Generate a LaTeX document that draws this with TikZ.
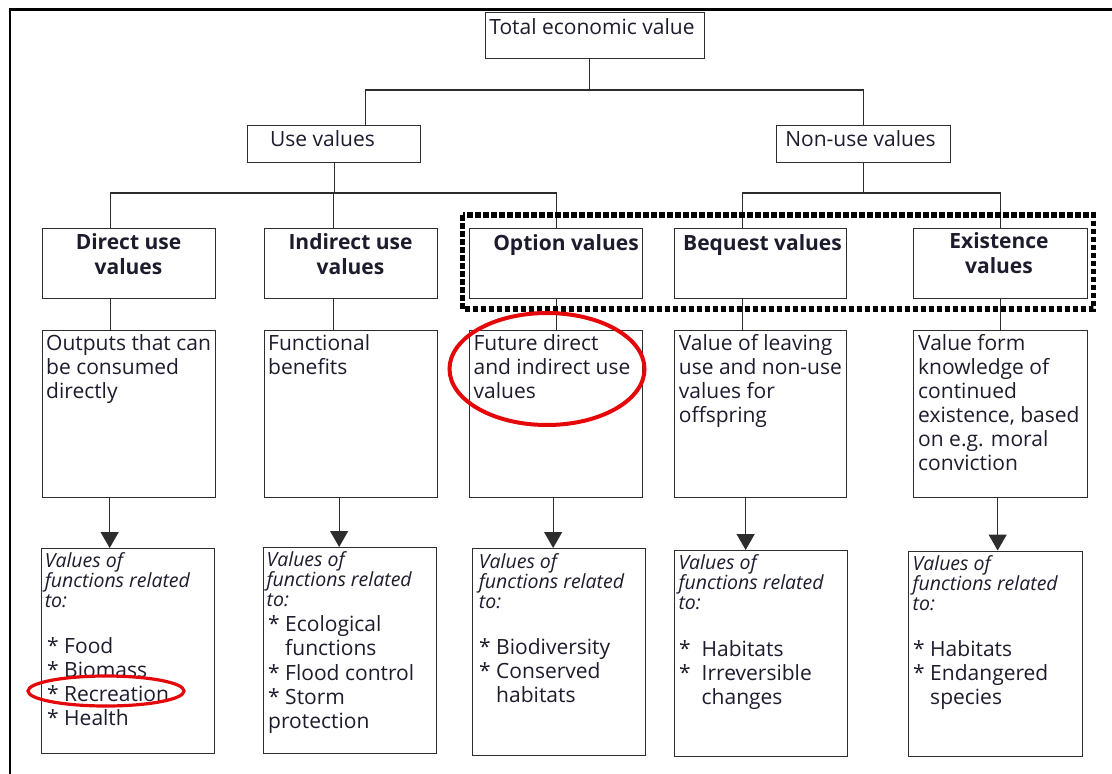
\documentclass[tikz,border=0pt]{standalone}
\usepackage{fontspec}
\setmainfont{Open Sans}
\usetikzlibrary{arrows.meta}
\definecolor{ink}{RGB}{28,28,45}
\definecolor{boxc}{RGB}{45,45,45}
\definecolor{redc}{RGB}{228,8,10}
\newcommand{\pl}[1]{\parbox[t]{300pt}{\raggedright #1}}
\newcommand{\pc}[1]{\parbox[t]{240pt}{\centering #1}}
\newcommand{\fr}{\fontsize{21}{24}\selectfont}
\newcommand{\fb}{\fontsize{21}{25}\selectfont\bfseries}
\newcommand{\fit}{\fontsize{19.5}{20}\selectfont\itshape}
\newcommand{\fbul}{\fontsize{21}{24.2}\selectfont}
\tikzset{
  box/.style={draw=boxc, line width=1.3pt, inner sep=0pt, anchor=north west},
  lbl/.style={inner sep=0pt, text=ink, anchor=base west},
  clbl/.style={inner sep=0pt, text=ink, anchor=base},
  conn/.style={draw=boxc, line width=1.3pt},
  arr/.style={conn, -{Triangle[width=18pt,length=16pt]}},
  hl/.style={draw=redc},
  dotbox/.style={draw=black, line width=5.5pt, dash pattern=on 5.5pt off 2.5pt},
}
\begin{document}
\begin{tikzpicture}[x=1pt,y=-1pt]
\useasboundingbox (0,0) rectangle (1112,774);
% outer frame
\draw[line width=2.5pt] (10,774) -- (10,9.5) -- (1112,9.5);

% header boxes
\node[box, minimum width=219pt, minimum height=46pt] (tev) at (485,11.5) {};
\node[box, minimum width=173pt, minimum height=37pt] (use) at (247,125) {};
\node[box, minimum width=174pt, minimum height=37pt] (non) at (776,125) {};

% value boxes
\node[box, minimum width=173pt, minimum height=69.5pt] (dir) at (42,228) {};
\node[box, minimum width=173pt, minimum height=69.5pt] (ind) at (264,228) {};
\node[box, minimum width=173pt, minimum height=69.5pt] (opt) at (469,228) {};
\node[box, minimum width=172pt, minimum height=69.5pt] (beq) at (674,228) {};
\node[box, minimum width=174pt, minimum height=69.5pt] (exi) at (913,228) {};

% description boxes
\node[box, minimum width=173pt, minimum height=167pt] (dirO) at (42,330) {};
\node[box, minimum width=173pt, minimum height=167pt] (indO) at (264,330) {};
\node[box, minimum width=173pt, minimum height=167pt] (optO) at (469,330) {};
\node[box, minimum width=172pt, minimum height=167pt] (beqO) at (674,330) {};
\node[box, minimum width=174pt, minimum height=167pt] (exiO) at (913,330) {};

% function boxes
\node[box, minimum width=173pt, minimum height=205pt] (dirF) at (40.5,548) {};
\node[box, minimum width=173pt, minimum height=206pt] (indF) at (263,547) {};
\node[box, minimum width=173pt, minimum height=207pt] (optF) at (471.5,548) {};
\node[box, minimum width=173pt, minimum height=206pt] (beqF) at (674,550) {};
\node[box, minimum width=174pt, minimum height=205pt] (exiF) at (908,550.5) {};

% tree connectors
\coordinate (bar1) at (0,90);
\coordinate (bar2) at (0,193);
\draw[conn] ([xshift=-5.5pt]tev.south) -- ([xshift=-5.5pt]tev.south |- bar1);
\draw[conn] ([xshift=31.5pt]use.north) |- (bar1 -| non.north) -- (non.north);
\draw[conn] (use.south) -- (use.south |- bar2);
\draw[conn] ([xshift=-18.5pt]dir.north) |- (bar2 -| opt.north) -- (opt.north);
\draw[conn] ([xshift=-17.5pt]ind.north) -- ([xshift=-17.5pt]ind.north |- bar2);
\draw[conn] (non.south) -- (non.south |- bar2);
\draw[conn] ([xshift=-18pt]beq.north) |- (bar2 -| exi.north) -- (exi.north);

% value -> description
\draw[conn] ([xshift=-18.5pt]dir.south) -- ([xshift=-18.5pt]dirO.north);
\draw[conn] ([xshift=-17.5pt]ind.south) -- ([xshift=-17.5pt]indO.north);
\draw[conn] (opt.south) -- (optO.north);
\draw[conn] ([xshift=-18pt]beq.south) -- ([xshift=-18pt]beqO.north);
\draw[conn] (exi.south) -- (exiO.north);

% description -> functions
\draw[arr] ([xshift=-19.5pt]dirO.south) -- ([xshift=-19.5pt]dirO.south |- dirF.north);
\draw[arr] ([xshift=-12pt]indO.south) -- ([xshift=-12pt]indO.south |- indF.north);
\draw[arr] ([xshift=-3pt]optO.south) -- ([xshift=-3pt]optO.south |- optF.north);
\draw[arr] ([xshift=-15pt]beqO.south) -- ([xshift=-15pt]beqO.south |- beqF.north);
\draw[arr] ([xshift=-3pt]exiO.south) -- ([xshift=-3pt]exiO.south |- exiF.north);

% dotted frame around non-use group
\draw[dotbox] (462.5,215) rectangle (1093.5,309);

% header texts
\node[clbl, font=\fr] (tevT) at (592,34.3) {Total economic value};
\node[clbl, font=\fr] (useT) at (322.5,146.7) {Use values};
\node[clbl, font=\fr] (nonT) at (860.5,146.7) {Non-use values};

\node[clbl] (dirT) at (128.5,249.3) {\pc{\fb Direct use\\values}};
\node[clbl] (indT) at (350.5,249.3) {\pc{\fb Indirect use\\values}};
\node[clbl] (optT) at (566,250) {\pc{\fb Option values}};
\node[clbl] (beqT) at (762.5,250) {\pc{\fb Bequest values}};
\node[clbl] (exiT) at (999,248.3) {\pc{\fb Existence\\values}};

% description texts
\node[lbl] (dirD) at (46,350.7) {\pl{\fr Outputs that can\\be consumed\\directly}};
\node[lbl] (indD) at (268,350.7) {\pl{\fr Functional\\benefits}};
\node[lbl] (optD) at (473.4,350.7) {\pl{\fr Future direct\\and indirect use\\values}};
\node[lbl] (beqD) at (678.7,350.7) {\pl{\fr Value of leaving\\use and non-use\\values for\\offspring}};
\node[lbl] (exiD) at (918,350.7) {\pl{\fr Value form\\knowledge of\\continued\\existence, based\\on e.g. moral\\conviction}};

% function texts
\node[lbl] (dirI) at (44.6,567.3) {\pl{\fit Values of\\functions related\\to:}};
\node[lbl] (dirL) at (47,653.3) {\pl{\fbul {*} Food\\{*} Biomass\\{*} Recreation\\{*} Health}};
\node[lbl] (indI) at (266.4,566) {\pl{\fit Values of\\functions related\\to:}};
\node[lbl] (indL) at (268,631.7) {\pl{\fbul {*} Ecological\\\phantom{* }functions\\{*} Flood control\\{*} Storm\\protection}};
\node[lbl] (optI) at (478.7,568.3) {\pl{\fit Values of\\functions related\\to:}};
\node[lbl] (optL) at (479,654) {\pl{\fbul {*} Biodiversity\\{*} Conserved\\\phantom{* }habitats}};
\node[lbl] (beqI) at (678.3,569.3) {\pl{\fit Values of\\functions related\\to:}};
\node[lbl] (beqL) at (679,656) {\pl{\fbul {*}~~Habitats\\{*}~~Irreversible\\\phantom{*~~}changes}};
\node[lbl] (exiI) at (912.4,570) {\pl{\fit Values of\\functions related\\to:}};
\node[lbl] (exiL) at (913,656) {\pl{\fbul {*} Habitats\\{*} Endangered\\\phantom{* }species}};

% red highlights
\draw[hl, line width=4pt] (547,369) ellipse [x radius=97.5pt, y radius=56pt];
\draw[hl, line width=3.2pt] (106,691) ellipse [x radius=78pt, y radius=15pt];
\end{tikzpicture}
\end{document}
